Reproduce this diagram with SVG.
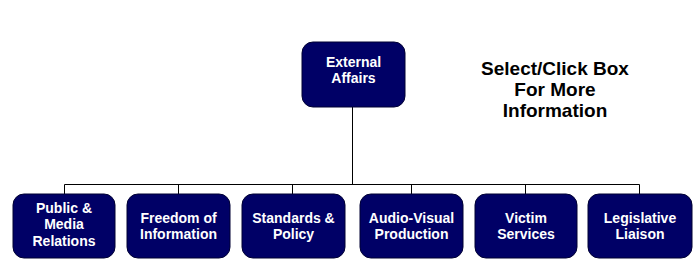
<svg xmlns="http://www.w3.org/2000/svg" width="700" height="280" viewBox="0 0 700 280">
<style>
.box{fill:#000066;stroke:#000033;stroke-width:1}
.t{font-family:"Liberation Sans",Arial,sans-serif;font-weight:bold;font-size:14px;fill:#ffffff;text-anchor:middle}
.c{stroke:#000000;stroke-width:1;fill:none}
.note{font-family:"Liberation Sans",Arial,sans-serif;font-weight:bold;font-size:19px;fill:#000000;text-anchor:middle}
</style>
<rect width="700" height="280" fill="#ffffff"/>
<g id="connectors">
<path class="c" d="M352.5 107V184.5M64.5 184.5H639.5M64.5 184.5V194M178.5 184.5V194M292.5 184.5V194M411.5 184.5V194M525.5 184.5V194M639.5 184.5V194"/>
</g>
<g id="external-affairs">
<rect class="box" x="302" y="42" width="103" height="65" rx="11"/>
<text class="t" x="353.5" y="67">External</text>
<text class="t" x="353.5" y="83">Affairs</text>
</g>
<g id="public-media">
<rect class="box" x="13" y="194" width="102" height="64" rx="11"/>
<text class="t" x="64" y="213">Public &amp;</text>
<text class="t" x="64" y="229">Media</text>
<text class="t" x="64" y="246">Relations</text>
</g>
<g id="foi">
<rect class="box" x="127" y="194" width="103" height="64" rx="11"/>
<text class="t" x="178.5" y="223">Freedom of</text>
<text class="t" x="178.5" y="239">Information</text>
</g>
<g id="standards">
<rect class="box" x="242" y="194" width="103" height="64" rx="11"/>
<text class="t" x="293.5" y="223">Standards &amp;</text>
<text class="t" x="293.5" y="239">Policy</text>
</g>
<g id="audio-visual">
<rect class="box" x="360" y="194" width="103" height="64" rx="11"/>
<text class="t" x="411.5" y="223">Audio-Visual</text>
<text class="t" x="411.5" y="239">Production</text>
</g>
<g id="victim">
<rect class="box" x="475" y="194" width="102" height="64" rx="11"/>
<text class="t" x="526" y="223">Victim</text>
<text class="t" x="526" y="239">Services</text>
</g>
<g id="legislative">
<rect class="box" x="588" y="194" width="104" height="64" rx="11"/>
<text class="t" x="640" y="223">Legislative</text>
<text class="t" x="640" y="239">Liaison</text>
</g>
<g id="note">
<text class="note" x="555" y="75">Select/Click Box</text>
<text class="note" x="555" y="96">For More</text>
<text class="note" x="555" y="117">Information</text>
</g>
</svg>
